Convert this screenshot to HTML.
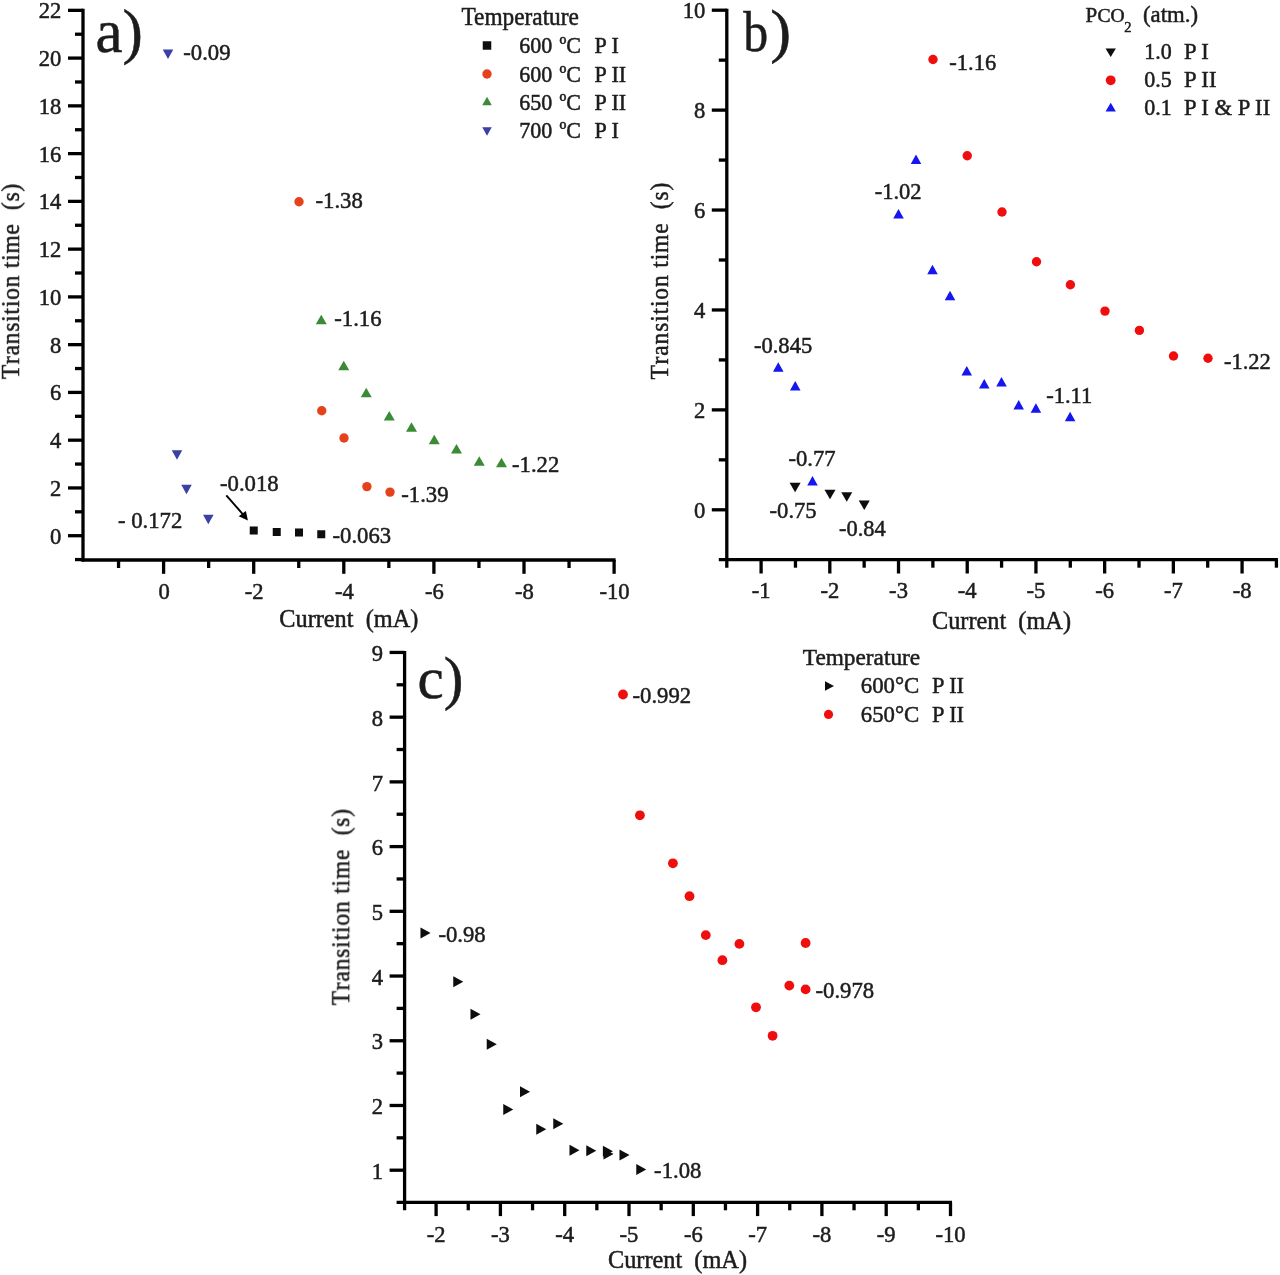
<!DOCTYPE html>
<html><head><meta charset="utf-8"><title>Transition time vs current</title>
<style>
html,body{margin:0;padding:0;background:#fff;}
body{width:1280px;height:1275px;overflow:hidden;font-family:"Liberation Serif",serif;}
svg{display:block;font-family:"Liberation Serif",serif;}
</style></head>
<body>
<svg width="1280" height="1275" viewBox="0 0 1280 1275">
<defs><filter id="soft" x="0" y="0" width="1280" height="1275" filterUnits="userSpaceOnUse"><feGaussianBlur stdDeviation="0.7"/></filter></defs>
<rect width="1280" height="1275" fill="#fff"/>
<g filter="url(#soft)">
<g id="A">
<line x1="83.00" y1="8.84" x2="83.00" y2="561.50" stroke="#050505" stroke-width="3.3"/>
<line x1="81.50" y1="560.00" x2="615.60" y2="560.00" stroke="#050505" stroke-width="3.3"/>
<line x1="75.00" y1="559.58" x2="83.00" y2="559.58" stroke="#050505" stroke-width="3.3"/>
<line x1="68.00" y1="535.70" x2="83.00" y2="535.70" stroke="#050505" stroke-width="3.3"/>
<text transform="translate(61.40,543.70) scale(1,1.06)" font-size="22.6" text-anchor="end" fill="#1c1c1c" stroke="#1c1c1c" stroke-width="0.5" >0</text>
<line x1="75.00" y1="511.82" x2="83.00" y2="511.82" stroke="#050505" stroke-width="3.3"/>
<line x1="68.00" y1="487.94" x2="83.00" y2="487.94" stroke="#050505" stroke-width="3.3"/>
<text transform="translate(61.40,495.94) scale(1,1.06)" font-size="22.6" text-anchor="end" fill="#1c1c1c" stroke="#1c1c1c" stroke-width="0.5" >2</text>
<line x1="75.00" y1="464.06" x2="83.00" y2="464.06" stroke="#050505" stroke-width="3.3"/>
<line x1="68.00" y1="440.18" x2="83.00" y2="440.18" stroke="#050505" stroke-width="3.3"/>
<text transform="translate(61.40,448.18) scale(1,1.06)" font-size="22.6" text-anchor="end" fill="#1c1c1c" stroke="#1c1c1c" stroke-width="0.5" >4</text>
<line x1="75.00" y1="416.30" x2="83.00" y2="416.30" stroke="#050505" stroke-width="3.3"/>
<line x1="68.00" y1="392.42" x2="83.00" y2="392.42" stroke="#050505" stroke-width="3.3"/>
<text transform="translate(61.40,400.42) scale(1,1.06)" font-size="22.6" text-anchor="end" fill="#1c1c1c" stroke="#1c1c1c" stroke-width="0.5" >6</text>
<line x1="75.00" y1="368.54" x2="83.00" y2="368.54" stroke="#050505" stroke-width="3.3"/>
<line x1="68.00" y1="344.66" x2="83.00" y2="344.66" stroke="#050505" stroke-width="3.3"/>
<text transform="translate(61.40,352.66) scale(1,1.06)" font-size="22.6" text-anchor="end" fill="#1c1c1c" stroke="#1c1c1c" stroke-width="0.5" >8</text>
<line x1="75.00" y1="320.78" x2="83.00" y2="320.78" stroke="#050505" stroke-width="3.3"/>
<line x1="68.00" y1="296.90" x2="83.00" y2="296.90" stroke="#050505" stroke-width="3.3"/>
<text transform="translate(61.40,304.90) scale(1,1.06)" font-size="22.6" text-anchor="end" fill="#1c1c1c" stroke="#1c1c1c" stroke-width="0.5" >10</text>
<line x1="75.00" y1="273.02" x2="83.00" y2="273.02" stroke="#050505" stroke-width="3.3"/>
<line x1="68.00" y1="249.14" x2="83.00" y2="249.14" stroke="#050505" stroke-width="3.3"/>
<text transform="translate(61.40,257.14) scale(1,1.06)" font-size="22.6" text-anchor="end" fill="#1c1c1c" stroke="#1c1c1c" stroke-width="0.5" >12</text>
<line x1="75.00" y1="225.26" x2="83.00" y2="225.26" stroke="#050505" stroke-width="3.3"/>
<line x1="68.00" y1="201.38" x2="83.00" y2="201.38" stroke="#050505" stroke-width="3.3"/>
<text transform="translate(61.40,209.38) scale(1,1.06)" font-size="22.6" text-anchor="end" fill="#1c1c1c" stroke="#1c1c1c" stroke-width="0.5" >14</text>
<line x1="75.00" y1="177.50" x2="83.00" y2="177.50" stroke="#050505" stroke-width="3.3"/>
<line x1="68.00" y1="153.62" x2="83.00" y2="153.62" stroke="#050505" stroke-width="3.3"/>
<text transform="translate(61.40,161.62) scale(1,1.06)" font-size="22.6" text-anchor="end" fill="#1c1c1c" stroke="#1c1c1c" stroke-width="0.5" >16</text>
<line x1="75.00" y1="129.74" x2="83.00" y2="129.74" stroke="#050505" stroke-width="3.3"/>
<line x1="68.00" y1="105.86" x2="83.00" y2="105.86" stroke="#050505" stroke-width="3.3"/>
<text transform="translate(61.40,113.86) scale(1,1.06)" font-size="22.6" text-anchor="end" fill="#1c1c1c" stroke="#1c1c1c" stroke-width="0.5" >18</text>
<line x1="75.00" y1="81.98" x2="83.00" y2="81.98" stroke="#050505" stroke-width="3.3"/>
<line x1="68.00" y1="58.10" x2="83.00" y2="58.10" stroke="#050505" stroke-width="3.3"/>
<text transform="translate(61.40,66.10) scale(1,1.06)" font-size="22.6" text-anchor="end" fill="#1c1c1c" stroke="#1c1c1c" stroke-width="0.5" >20</text>
<line x1="75.00" y1="34.22" x2="83.00" y2="34.22" stroke="#050505" stroke-width="3.3"/>
<line x1="68.00" y1="10.34" x2="83.00" y2="10.34" stroke="#050505" stroke-width="3.3"/>
<text transform="translate(61.40,18.34) scale(1,1.06)" font-size="22.6" text-anchor="end" fill="#1c1c1c" stroke="#1c1c1c" stroke-width="0.5" >22</text>
<line x1="614.10" y1="560.00" x2="614.10" y2="573.80" stroke="#050505" stroke-width="3.3"/>
<text transform="translate(614.60,599.00) scale(1,1.06)" font-size="22.6" text-anchor="middle" fill="#1c1c1c" stroke="#1c1c1c" stroke-width="0.5" >-10</text>
<line x1="569.05" y1="560.00" x2="569.05" y2="568.00" stroke="#050505" stroke-width="3.3"/>
<line x1="524.00" y1="560.00" x2="524.00" y2="573.80" stroke="#050505" stroke-width="3.3"/>
<text transform="translate(524.50,599.00) scale(1,1.06)" font-size="22.6" text-anchor="middle" fill="#1c1c1c" stroke="#1c1c1c" stroke-width="0.5" >-8</text>
<line x1="478.95" y1="560.00" x2="478.95" y2="568.00" stroke="#050505" stroke-width="3.3"/>
<line x1="433.90" y1="560.00" x2="433.90" y2="573.80" stroke="#050505" stroke-width="3.3"/>
<text transform="translate(434.40,599.00) scale(1,1.06)" font-size="22.6" text-anchor="middle" fill="#1c1c1c" stroke="#1c1c1c" stroke-width="0.5" >-6</text>
<line x1="388.85" y1="560.00" x2="388.85" y2="568.00" stroke="#050505" stroke-width="3.3"/>
<line x1="343.80" y1="560.00" x2="343.80" y2="573.80" stroke="#050505" stroke-width="3.3"/>
<text transform="translate(344.30,599.00) scale(1,1.06)" font-size="22.6" text-anchor="middle" fill="#1c1c1c" stroke="#1c1c1c" stroke-width="0.5" >-4</text>
<line x1="298.75" y1="560.00" x2="298.75" y2="568.00" stroke="#050505" stroke-width="3.3"/>
<line x1="253.70" y1="560.00" x2="253.70" y2="573.80" stroke="#050505" stroke-width="3.3"/>
<text transform="translate(254.20,599.00) scale(1,1.06)" font-size="22.6" text-anchor="middle" fill="#1c1c1c" stroke="#1c1c1c" stroke-width="0.5" >-2</text>
<line x1="208.65" y1="560.00" x2="208.65" y2="568.00" stroke="#050505" stroke-width="3.3"/>
<line x1="163.60" y1="560.00" x2="163.60" y2="573.80" stroke="#050505" stroke-width="3.3"/>
<text transform="translate(164.10,599.00) scale(1,1.06)" font-size="22.6" text-anchor="middle" fill="#1c1c1c" stroke="#1c1c1c" stroke-width="0.5" >0</text>
<line x1="118.55" y1="560.00" x2="118.55" y2="568.00" stroke="#050505" stroke-width="3.3"/>
<text transform="translate(19.00,379.20) rotate(-90) scale(0.93,1)" font-size="25.3" fill="#1c1c1c" stroke="#1c1c1c" stroke-width="0.5" xml:space="preserve" style="font-kerning:none" textLength="210.22" lengthAdjust="spacing">Transition time  (s)</text>
<text transform="translate(279.30,627.00) scale(1,1.05)" font-size="24.3" text-anchor="start" fill="#1c1c1c" stroke="#1c1c1c" stroke-width="0.5" xml:space="preserve">Current  (mA)</text>
<text transform="translate(95.50,51.50) scale(1,1)" font-size="61" text-anchor="start" fill="#1c1c1c" stroke="#1c1c1c" stroke-width="0.5" >a)</text>
<text transform="translate(461.50,25.00) scale(1,1.04)" font-size="23.3" text-anchor="start" fill="#1c1c1c" stroke="#1c1c1c" stroke-width="0.5" >Temperature</text>
<text transform="translate(519.20,52.90) scale(1,1.06)" font-size="22" text-anchor="start" fill="#1c1c1c" stroke="#1c1c1c" stroke-width="0.5" >600</text>
<text transform="translate(559.50,52.90) scale(1,1.06)" font-size="22" text-anchor="start" fill="#1c1c1c" stroke="#1c1c1c" stroke-width="0.5" >ºC</text>
<text transform="translate(594.50,52.90) scale(1,1.06)" font-size="22" text-anchor="start" fill="#1c1c1c" stroke="#1c1c1c" stroke-width="0.5" >P I</text>
<text transform="translate(519.20,81.70) scale(1,1.06)" font-size="22" text-anchor="start" fill="#1c1c1c" stroke="#1c1c1c" stroke-width="0.5" >600</text>
<text transform="translate(559.50,81.70) scale(1,1.06)" font-size="22" text-anchor="start" fill="#1c1c1c" stroke="#1c1c1c" stroke-width="0.5" >ºC</text>
<text transform="translate(594.50,81.70) scale(1,1.06)" font-size="22" text-anchor="start" fill="#1c1c1c" stroke="#1c1c1c" stroke-width="0.5" >P II</text>
<text transform="translate(519.20,109.70) scale(1,1.06)" font-size="22" text-anchor="start" fill="#1c1c1c" stroke="#1c1c1c" stroke-width="0.5" >650</text>
<text transform="translate(559.50,109.70) scale(1,1.06)" font-size="22" text-anchor="start" fill="#1c1c1c" stroke="#1c1c1c" stroke-width="0.5" >ºC</text>
<text transform="translate(594.50,109.70) scale(1,1.06)" font-size="22" text-anchor="start" fill="#1c1c1c" stroke="#1c1c1c" stroke-width="0.5" >P II</text>
<text transform="translate(519.20,137.80) scale(1,1.06)" font-size="22" text-anchor="start" fill="#1c1c1c" stroke="#1c1c1c" stroke-width="0.5" >700</text>
<text transform="translate(559.50,137.80) scale(1,1.06)" font-size="22" text-anchor="start" fill="#1c1c1c" stroke="#1c1c1c" stroke-width="0.5" >ºC</text>
<text transform="translate(594.50,137.80) scale(1,1.06)" font-size="22" text-anchor="start" fill="#1c1c1c" stroke="#1c1c1c" stroke-width="0.5" >P I</text>
<rect x="482.75" y="41.25" width="8.5" height="8.5" fill="#0a0a0a"/>
<circle cx="487.00" cy="74.00" r="4.7" fill="#e5431f"/>
<polygon points="482.25,105.25 491.75,105.25 487.00,96.75" fill="#3a8a35"/>
<polygon points="482.25,127.35 491.75,127.35 487.00,135.85" fill="#3b3fa5"/>
<polygon points="162.75,49.60 173.25,49.60 168.00,59.10" fill="#3b3fa5"/>
<polygon points="171.75,450.35 182.25,450.35 177.00,459.85" fill="#3b3fa5"/>
<polygon points="181.25,484.85 191.75,484.85 186.50,494.35" fill="#3b3fa5"/>
<polygon points="203.05,514.65 213.55,514.65 208.30,524.15" fill="#3b3fa5"/>
<rect x="249.75" y="526.50" width="8" height="8" fill="#0a0a0a"/>
<rect x="272.75" y="528.00" width="8" height="8" fill="#0a0a0a"/>
<rect x="295.00" y="528.50" width="8" height="8" fill="#0a0a0a"/>
<rect x="317.25" y="530.25" width="8" height="8" fill="#0a0a0a"/>
<circle cx="299.00" cy="201.75" r="4.7" fill="#e5431f"/>
<circle cx="321.75" cy="410.75" r="4.7" fill="#e5431f"/>
<circle cx="344.00" cy="438.00" r="4.7" fill="#e5431f"/>
<circle cx="366.90" cy="486.60" r="4.7" fill="#e5431f"/>
<circle cx="390.00" cy="492.10" r="4.7" fill="#e5431f"/>
<polygon points="315.75,324.25 326.75,324.25 321.25,314.75" fill="#3a8a35"/>
<polygon points="338.25,370.25 349.25,370.25 343.75,360.75" fill="#3a8a35"/>
<polygon points="360.75,397.25 371.75,397.25 366.25,387.75" fill="#3a8a35"/>
<polygon points="383.75,420.50 394.75,420.50 389.25,411.00" fill="#3a8a35"/>
<polygon points="406.00,431.75 417.00,431.75 411.50,422.25" fill="#3a8a35"/>
<polygon points="428.75,444.25 439.75,444.25 434.25,434.75" fill="#3a8a35"/>
<polygon points="451.00,453.50 462.00,453.50 456.50,444.00" fill="#3a8a35"/>
<polygon points="473.75,465.75 484.75,465.75 479.25,456.25" fill="#3a8a35"/>
<polygon points="496.00,467.25 507.00,467.25 501.50,457.75" fill="#3a8a35"/>
<text transform="translate(183.25,59.50) scale(1,1.06)" font-size="22.7" text-anchor="start" fill="#1c1c1c" stroke="#1c1c1c" stroke-width="0.5" >-0.09</text>
<text transform="translate(315.50,208.00) scale(1,1.06)" font-size="22.7" text-anchor="start" fill="#1c1c1c" stroke="#1c1c1c" stroke-width="0.5" >-1.38</text>
<text transform="translate(334.25,326.25) scale(1,1.06)" font-size="22.7" text-anchor="start" fill="#1c1c1c" stroke="#1c1c1c" stroke-width="0.5" >-1.16</text>
<text transform="translate(512.00,471.75) scale(1,1.06)" font-size="22.7" text-anchor="start" fill="#1c1c1c" stroke="#1c1c1c" stroke-width="0.5" >-1.22</text>
<text transform="translate(401.25,501.90) scale(1,1.06)" font-size="22.7" text-anchor="start" fill="#1c1c1c" stroke="#1c1c1c" stroke-width="0.5" >-1.39</text>
<text transform="translate(332.50,542.50) scale(1,1.06)" font-size="22.7" text-anchor="start" fill="#1c1c1c" stroke="#1c1c1c" stroke-width="0.5" >-0.063</text>
<text transform="translate(220.00,491.25) scale(1,1.06)" font-size="22.7" text-anchor="start" fill="#1c1c1c" stroke="#1c1c1c" stroke-width="0.5" >-0.018</text>
<text transform="translate(118.00,527.50) scale(1,1.06)" font-size="22.7" text-anchor="start" fill="#1c1c1c" stroke="#1c1c1c" stroke-width="0.5" >- 0.172</text>
<line x1="226.3" y1="495.3" x2="243.8" y2="515.3" stroke="#050505" stroke-width="1.9"/>
<polygon points="247.9,520.4 238.7,516.3 245.9,510.9" fill="#050505"/>
</g>
<g id="B">
<line x1="726.80" y1="8.70" x2="726.80" y2="567.70" stroke="#050505" stroke-width="3.3"/>
<line x1="718.80" y1="559.70" x2="1277.92" y2="559.70" stroke="#050505" stroke-width="3.3"/>
<line x1="711.80" y1="509.80" x2="726.80" y2="509.80" stroke="#050505" stroke-width="3.3"/>
<text transform="translate(705.30,517.80) scale(1,1.06)" font-size="22.6" text-anchor="end" fill="#1c1c1c" stroke="#1c1c1c" stroke-width="0.5" >0</text>
<line x1="718.80" y1="459.84" x2="726.80" y2="459.84" stroke="#050505" stroke-width="3.3"/>
<line x1="711.80" y1="409.88" x2="726.80" y2="409.88" stroke="#050505" stroke-width="3.3"/>
<text transform="translate(705.30,417.88) scale(1,1.06)" font-size="22.6" text-anchor="end" fill="#1c1c1c" stroke="#1c1c1c" stroke-width="0.5" >2</text>
<line x1="718.80" y1="359.92" x2="726.80" y2="359.92" stroke="#050505" stroke-width="3.3"/>
<line x1="711.80" y1="309.96" x2="726.80" y2="309.96" stroke="#050505" stroke-width="3.3"/>
<text transform="translate(705.30,317.96) scale(1,1.06)" font-size="22.6" text-anchor="end" fill="#1c1c1c" stroke="#1c1c1c" stroke-width="0.5" >4</text>
<line x1="718.80" y1="260.00" x2="726.80" y2="260.00" stroke="#050505" stroke-width="3.3"/>
<line x1="711.80" y1="210.04" x2="726.80" y2="210.04" stroke="#050505" stroke-width="3.3"/>
<text transform="translate(705.30,218.04) scale(1,1.06)" font-size="22.6" text-anchor="end" fill="#1c1c1c" stroke="#1c1c1c" stroke-width="0.5" >6</text>
<line x1="718.80" y1="160.08" x2="726.80" y2="160.08" stroke="#050505" stroke-width="3.3"/>
<line x1="711.80" y1="110.12" x2="726.80" y2="110.12" stroke="#050505" stroke-width="3.3"/>
<text transform="translate(705.30,118.12) scale(1,1.06)" font-size="22.6" text-anchor="end" fill="#1c1c1c" stroke="#1c1c1c" stroke-width="0.5" >8</text>
<line x1="718.80" y1="60.16" x2="726.80" y2="60.16" stroke="#050505" stroke-width="3.3"/>
<line x1="711.80" y1="10.20" x2="726.80" y2="10.20" stroke="#050505" stroke-width="3.3"/>
<text transform="translate(705.30,18.20) scale(1,1.06)" font-size="22.6" text-anchor="end" fill="#1c1c1c" stroke="#1c1c1c" stroke-width="0.5" >10</text>
<line x1="761.10" y1="559.70" x2="761.10" y2="573.50" stroke="#050505" stroke-width="3.3"/>
<text transform="translate(761.10,598.40) scale(1,1.06)" font-size="22.6" text-anchor="middle" fill="#1c1c1c" stroke="#1c1c1c" stroke-width="0.5" >-1</text>
<line x1="795.46" y1="559.70" x2="795.46" y2="567.70" stroke="#050505" stroke-width="3.3"/>
<line x1="829.81" y1="559.70" x2="829.81" y2="573.50" stroke="#050505" stroke-width="3.3"/>
<text transform="translate(829.81,598.40) scale(1,1.06)" font-size="22.6" text-anchor="middle" fill="#1c1c1c" stroke="#1c1c1c" stroke-width="0.5" >-2</text>
<line x1="864.16" y1="559.70" x2="864.16" y2="567.70" stroke="#050505" stroke-width="3.3"/>
<line x1="898.52" y1="559.70" x2="898.52" y2="573.50" stroke="#050505" stroke-width="3.3"/>
<text transform="translate(898.52,598.40) scale(1,1.06)" font-size="22.6" text-anchor="middle" fill="#1c1c1c" stroke="#1c1c1c" stroke-width="0.5" >-3</text>
<line x1="932.88" y1="559.70" x2="932.88" y2="567.70" stroke="#050505" stroke-width="3.3"/>
<line x1="967.23" y1="559.70" x2="967.23" y2="573.50" stroke="#050505" stroke-width="3.3"/>
<text transform="translate(967.23,598.40) scale(1,1.06)" font-size="22.6" text-anchor="middle" fill="#1c1c1c" stroke="#1c1c1c" stroke-width="0.5" >-4</text>
<line x1="1001.59" y1="559.70" x2="1001.59" y2="567.70" stroke="#050505" stroke-width="3.3"/>
<line x1="1035.94" y1="559.70" x2="1035.94" y2="573.50" stroke="#050505" stroke-width="3.3"/>
<text transform="translate(1035.94,598.40) scale(1,1.06)" font-size="22.6" text-anchor="middle" fill="#1c1c1c" stroke="#1c1c1c" stroke-width="0.5" >-5</text>
<line x1="1070.30" y1="559.70" x2="1070.30" y2="567.70" stroke="#050505" stroke-width="3.3"/>
<line x1="1104.65" y1="559.70" x2="1104.65" y2="573.50" stroke="#050505" stroke-width="3.3"/>
<text transform="translate(1104.65,598.40) scale(1,1.06)" font-size="22.6" text-anchor="middle" fill="#1c1c1c" stroke="#1c1c1c" stroke-width="0.5" >-6</text>
<line x1="1139.01" y1="559.70" x2="1139.01" y2="567.70" stroke="#050505" stroke-width="3.3"/>
<line x1="1173.36" y1="559.70" x2="1173.36" y2="573.50" stroke="#050505" stroke-width="3.3"/>
<text transform="translate(1173.36,598.40) scale(1,1.06)" font-size="22.6" text-anchor="middle" fill="#1c1c1c" stroke="#1c1c1c" stroke-width="0.5" >-7</text>
<line x1="1207.71" y1="559.70" x2="1207.71" y2="567.70" stroke="#050505" stroke-width="3.3"/>
<line x1="1242.07" y1="559.70" x2="1242.07" y2="573.50" stroke="#050505" stroke-width="3.3"/>
<text transform="translate(1242.07,598.40) scale(1,1.06)" font-size="22.6" text-anchor="middle" fill="#1c1c1c" stroke="#1c1c1c" stroke-width="0.5" >-8</text>
<line x1="1276.42" y1="559.70" x2="1276.42" y2="567.70" stroke="#050505" stroke-width="3.3"/>
<text transform="translate(667.60,379.60) rotate(-90) scale(0.93,1)" font-size="25.3" fill="#1c1c1c" stroke="#1c1c1c" stroke-width="0.5" xml:space="preserve" style="font-kerning:none" textLength="211.83" lengthAdjust="spacing">Transition time  (s)</text>
<text transform="translate(932.00,629.00) scale(1,1.05)" font-size="24.3" text-anchor="start" fill="#1c1c1c" stroke="#1c1c1c" stroke-width="0.5" xml:space="preserve">Current  (mA)</text>
<text transform="translate(743.2,51) scale(0.86,1)" font-size="58" fill="#1c1c1c" stroke="#1c1c1c" stroke-width="0.5">b</text>
<text transform="translate(770.2,51) scale(1.08,1.03)" font-size="58" fill="#1c1c1c" stroke="#1c1c1c" stroke-width="0.5">)</text>
<text transform="translate(1085.50,22.30) scale(1,1.0)" font-size="21" text-anchor="start" fill="#1c1c1c" stroke="#1c1c1c" stroke-width="0.5" >P</text>
<text transform="translate(1097.50,22.30) scale(1,1.0)" font-size="19.6" text-anchor="start" fill="#1c1c1c" stroke="#1c1c1c" stroke-width="0.5" >CO</text>
<text transform="translate(1124.30,31.80) scale(1,1.0)" font-size="14.5" text-anchor="start" fill="#1c1c1c" stroke="#1c1c1c" stroke-width="0.5" >2</text>
<text transform="translate(1143.00,22.30) scale(1,0.98)" font-size="22.8" text-anchor="start" fill="#1c1c1c" stroke="#1c1c1c" stroke-width="0.5" >(atm.)</text>
<text transform="translate(1144.20,59.00) scale(1,1.02)" font-size="22" text-anchor="start" fill="#1c1c1c" stroke="#1c1c1c" stroke-width="0.5" >1.0</text>
<text transform="translate(1184.00,59.00) scale(1,1.02)" font-size="22.6" text-anchor="start" fill="#1c1c1c" stroke="#1c1c1c" stroke-width="0.5" >P I</text>
<text transform="translate(1144.20,87.10) scale(1,1.02)" font-size="22" text-anchor="start" fill="#1c1c1c" stroke="#1c1c1c" stroke-width="0.5" >0.5</text>
<text transform="translate(1184.00,87.10) scale(1,1.02)" font-size="22.6" text-anchor="start" fill="#1c1c1c" stroke="#1c1c1c" stroke-width="0.5" >P II</text>
<text transform="translate(1144.20,115.20) scale(1,1.02)" font-size="22" text-anchor="start" fill="#1c1c1c" stroke="#1c1c1c" stroke-width="0.5" >0.1</text>
<text transform="translate(1184.00,115.20) scale(1,1.02)" font-size="22.6" text-anchor="start" fill="#1c1c1c" stroke="#1c1c1c" stroke-width="0.5" >P I &amp; P II</text>
<polygon points="1105.55,48.40 1115.85,48.40 1110.70,57.00" fill="#0a0a0a"/>
<circle cx="1110.70" cy="80.30" r="4.9" fill="#f01010"/>
<polygon points="1105.55,111.60 1115.85,111.60 1110.70,102.80" fill="#1212ee"/>
<circle cx="933.00" cy="59.50" r="4.7" fill="#f01010"/>
<circle cx="967.25" cy="155.75" r="4.7" fill="#f01010"/>
<circle cx="1002.00" cy="212.00" r="4.7" fill="#f01010"/>
<circle cx="1036.50" cy="261.80" r="4.7" fill="#f01010"/>
<circle cx="1070.40" cy="284.70" r="4.7" fill="#f01010"/>
<circle cx="1105.00" cy="311.10" r="4.7" fill="#f01010"/>
<circle cx="1139.40" cy="330.40" r="4.7" fill="#f01010"/>
<circle cx="1173.50" cy="356.00" r="4.7" fill="#f01010"/>
<circle cx="1208.00" cy="358.20" r="4.7" fill="#f01010"/>
<polygon points="773.00,371.75 783.50,371.75 778.25,362.25" fill="#1212ee"/>
<polygon points="790.00,390.50 800.50,390.50 795.25,381.00" fill="#1212ee"/>
<polygon points="807.25,485.55 817.75,485.55 812.50,476.05" fill="#1212ee"/>
<polygon points="961.50,375.50 972.00,375.50 966.75,366.00" fill="#1212ee"/>
<polygon points="979.00,388.50 989.50,388.50 984.25,379.00" fill="#1212ee"/>
<polygon points="996.25,386.50 1006.75,386.50 1001.50,377.00" fill="#1212ee"/>
<polygon points="1013.45,409.45 1023.95,409.45 1018.70,399.95" fill="#1212ee"/>
<polygon points="1030.65,412.75 1041.15,412.75 1035.90,403.25" fill="#1212ee"/>
<polygon points="1064.85,421.15 1075.35,421.15 1070.10,411.65" fill="#1212ee"/>
<polygon points="910.75,164.00 921.25,164.00 916.00,154.50" fill="#1212ee"/>
<polygon points="893.25,218.50 903.75,218.50 898.50,209.00" fill="#1212ee"/>
<polygon points="927.25,274.25 937.75,274.25 932.50,264.75" fill="#1212ee"/>
<polygon points="944.75,300.25 955.25,300.25 950.00,290.75" fill="#1212ee"/>
<polygon points="789.60,482.75 800.60,482.75 795.10,492.25" fill="#0a0a0a"/>
<polygon points="824.50,489.85 835.50,489.85 830.00,499.35" fill="#0a0a0a"/>
<polygon points="841.25,492.15 852.25,492.15 846.75,501.65" fill="#0a0a0a"/>
<polygon points="858.75,500.55 869.75,500.55 864.25,510.05" fill="#0a0a0a"/>
<text transform="translate(949.30,70.30) scale(1,1.0)" font-size="22.5" text-anchor="start" fill="#1c1c1c" stroke="#1c1c1c" stroke-width="0.5" >-1.16</text>
<text transform="translate(874.70,199.00) scale(1,1.0)" font-size="22.5" text-anchor="start" fill="#1c1c1c" stroke="#1c1c1c" stroke-width="0.5" >-1.02</text>
<text transform="translate(753.90,353.00) scale(1,1.03)" font-size="22.6" text-anchor="start" fill="#1c1c1c" stroke="#1c1c1c" stroke-width="0.5" >-0.845</text>
<text transform="translate(788.50,466.30) scale(1,1.0)" font-size="22.6" text-anchor="start" fill="#1c1c1c" stroke="#1c1c1c" stroke-width="0.5" >-0.77</text>
<text transform="translate(769.60,518.20) scale(1,1.0)" font-size="22.6" text-anchor="start" fill="#1c1c1c" stroke="#1c1c1c" stroke-width="0.5" >-0.75</text>
<text transform="translate(839.00,535.70) scale(1,1.0)" font-size="22.4" text-anchor="start" fill="#1c1c1c" stroke="#1c1c1c" stroke-width="0.5" >-0.84</text>
<text transform="translate(1046.20,402.60) scale(1,1.0)" font-size="22.5" text-anchor="start" fill="#1c1c1c" stroke="#1c1c1c" stroke-width="0.5" >-1.11</text>
<text transform="translate(1224.00,369.20) scale(1,1.0)" font-size="22.5" text-anchor="start" fill="#1c1c1c" stroke="#1c1c1c" stroke-width="0.5" >-1.22</text>
</g>
<g id="C">
<line x1="404.60" y1="650.94" x2="404.60" y2="1210.30" stroke="#050505" stroke-width="3.3"/>
<line x1="396.60" y1="1202.30" x2="952.00" y2="1202.30" stroke="#050505" stroke-width="3.3"/>
<line x1="389.60" y1="1170.20" x2="404.60" y2="1170.20" stroke="#050505" stroke-width="3.3"/>
<text transform="translate(383.00,1178.90) scale(1,1.06)" font-size="22.6" text-anchor="end" fill="#1c1c1c" stroke="#1c1c1c" stroke-width="0.5" >1</text>
<line x1="396.60" y1="1137.84" x2="404.60" y2="1137.84" stroke="#050505" stroke-width="3.3"/>
<line x1="389.60" y1="1105.48" x2="404.60" y2="1105.48" stroke="#050505" stroke-width="3.3"/>
<text transform="translate(383.00,1114.18) scale(1,1.06)" font-size="22.6" text-anchor="end" fill="#1c1c1c" stroke="#1c1c1c" stroke-width="0.5" >2</text>
<line x1="396.60" y1="1073.12" x2="404.60" y2="1073.12" stroke="#050505" stroke-width="3.3"/>
<line x1="389.60" y1="1040.76" x2="404.60" y2="1040.76" stroke="#050505" stroke-width="3.3"/>
<text transform="translate(383.00,1049.46) scale(1,1.06)" font-size="22.6" text-anchor="end" fill="#1c1c1c" stroke="#1c1c1c" stroke-width="0.5" >3</text>
<line x1="396.60" y1="1008.40" x2="404.60" y2="1008.40" stroke="#050505" stroke-width="3.3"/>
<line x1="389.60" y1="976.04" x2="404.60" y2="976.04" stroke="#050505" stroke-width="3.3"/>
<text transform="translate(383.00,984.74) scale(1,1.06)" font-size="22.6" text-anchor="end" fill="#1c1c1c" stroke="#1c1c1c" stroke-width="0.5" >4</text>
<line x1="396.60" y1="943.68" x2="404.60" y2="943.68" stroke="#050505" stroke-width="3.3"/>
<line x1="389.60" y1="911.32" x2="404.60" y2="911.32" stroke="#050505" stroke-width="3.3"/>
<text transform="translate(383.00,920.02) scale(1,1.06)" font-size="22.6" text-anchor="end" fill="#1c1c1c" stroke="#1c1c1c" stroke-width="0.5" >5</text>
<line x1="396.60" y1="878.96" x2="404.60" y2="878.96" stroke="#050505" stroke-width="3.3"/>
<line x1="389.60" y1="846.60" x2="404.60" y2="846.60" stroke="#050505" stroke-width="3.3"/>
<text transform="translate(383.00,855.30) scale(1,1.06)" font-size="22.6" text-anchor="end" fill="#1c1c1c" stroke="#1c1c1c" stroke-width="0.5" >6</text>
<line x1="396.60" y1="814.24" x2="404.60" y2="814.24" stroke="#050505" stroke-width="3.3"/>
<line x1="389.60" y1="781.88" x2="404.60" y2="781.88" stroke="#050505" stroke-width="3.3"/>
<text transform="translate(383.00,790.58) scale(1,1.06)" font-size="22.6" text-anchor="end" fill="#1c1c1c" stroke="#1c1c1c" stroke-width="0.5" >7</text>
<line x1="396.60" y1="749.52" x2="404.60" y2="749.52" stroke="#050505" stroke-width="3.3"/>
<line x1="389.60" y1="717.16" x2="404.60" y2="717.16" stroke="#050505" stroke-width="3.3"/>
<text transform="translate(383.00,725.86) scale(1,1.06)" font-size="22.6" text-anchor="end" fill="#1c1c1c" stroke="#1c1c1c" stroke-width="0.5" >8</text>
<line x1="396.60" y1="684.80" x2="404.60" y2="684.80" stroke="#050505" stroke-width="3.3"/>
<line x1="389.60" y1="652.44" x2="404.60" y2="652.44" stroke="#050505" stroke-width="3.3"/>
<text transform="translate(383.00,661.14) scale(1,1.06)" font-size="22.6" text-anchor="end" fill="#1c1c1c" stroke="#1c1c1c" stroke-width="0.5" >9</text>
<line x1="436.10" y1="1202.30" x2="436.10" y2="1216.10" stroke="#050505" stroke-width="3.3"/>
<text transform="translate(436.10,1241.60) scale(1,1.06)" font-size="22.6" text-anchor="middle" fill="#1c1c1c" stroke="#1c1c1c" stroke-width="0.5" >-2</text>
<line x1="468.25" y1="1202.30" x2="468.25" y2="1210.30" stroke="#050505" stroke-width="3.3"/>
<line x1="500.40" y1="1202.30" x2="500.40" y2="1216.10" stroke="#050505" stroke-width="3.3"/>
<text transform="translate(500.40,1241.60) scale(1,1.06)" font-size="22.6" text-anchor="middle" fill="#1c1c1c" stroke="#1c1c1c" stroke-width="0.5" >-3</text>
<line x1="532.55" y1="1202.30" x2="532.55" y2="1210.30" stroke="#050505" stroke-width="3.3"/>
<line x1="564.70" y1="1202.30" x2="564.70" y2="1216.10" stroke="#050505" stroke-width="3.3"/>
<text transform="translate(564.70,1241.60) scale(1,1.06)" font-size="22.6" text-anchor="middle" fill="#1c1c1c" stroke="#1c1c1c" stroke-width="0.5" >-4</text>
<line x1="596.85" y1="1202.30" x2="596.85" y2="1210.30" stroke="#050505" stroke-width="3.3"/>
<line x1="629.00" y1="1202.30" x2="629.00" y2="1216.10" stroke="#050505" stroke-width="3.3"/>
<text transform="translate(629.00,1241.60) scale(1,1.06)" font-size="22.6" text-anchor="middle" fill="#1c1c1c" stroke="#1c1c1c" stroke-width="0.5" >-5</text>
<line x1="661.15" y1="1202.30" x2="661.15" y2="1210.30" stroke="#050505" stroke-width="3.3"/>
<line x1="693.30" y1="1202.30" x2="693.30" y2="1216.10" stroke="#050505" stroke-width="3.3"/>
<text transform="translate(693.30,1241.60) scale(1,1.06)" font-size="22.6" text-anchor="middle" fill="#1c1c1c" stroke="#1c1c1c" stroke-width="0.5" >-6</text>
<line x1="725.45" y1="1202.30" x2="725.45" y2="1210.30" stroke="#050505" stroke-width="3.3"/>
<line x1="757.60" y1="1202.30" x2="757.60" y2="1216.10" stroke="#050505" stroke-width="3.3"/>
<text transform="translate(757.60,1241.60) scale(1,1.06)" font-size="22.6" text-anchor="middle" fill="#1c1c1c" stroke="#1c1c1c" stroke-width="0.5" >-7</text>
<line x1="789.75" y1="1202.30" x2="789.75" y2="1210.30" stroke="#050505" stroke-width="3.3"/>
<line x1="821.90" y1="1202.30" x2="821.90" y2="1216.10" stroke="#050505" stroke-width="3.3"/>
<text transform="translate(821.90,1241.60) scale(1,1.06)" font-size="22.6" text-anchor="middle" fill="#1c1c1c" stroke="#1c1c1c" stroke-width="0.5" >-8</text>
<line x1="854.05" y1="1202.30" x2="854.05" y2="1210.30" stroke="#050505" stroke-width="3.3"/>
<line x1="886.20" y1="1202.30" x2="886.20" y2="1216.10" stroke="#050505" stroke-width="3.3"/>
<text transform="translate(886.20,1241.60) scale(1,1.06)" font-size="22.6" text-anchor="middle" fill="#1c1c1c" stroke="#1c1c1c" stroke-width="0.5" >-9</text>
<line x1="918.35" y1="1202.30" x2="918.35" y2="1210.30" stroke="#050505" stroke-width="3.3"/>
<line x1="950.50" y1="1202.30" x2="950.50" y2="1216.10" stroke="#050505" stroke-width="3.3"/>
<text transform="translate(950.50,1241.60) scale(1,1.06)" font-size="22.6" text-anchor="middle" fill="#1c1c1c" stroke="#1c1c1c" stroke-width="0.5" >-10</text>
<text transform="translate(349.20,1005.40) rotate(-90) scale(0.93,1)" font-size="25.3" fill="#1c1c1c" stroke="#1c1c1c" stroke-width="0.5" xml:space="preserve" style="font-kerning:none" textLength="211.29" lengthAdjust="spacing">Transition time  (s)</text>
<text transform="translate(608.00,1267.60) scale(1,1.05)" font-size="24.3" text-anchor="start" fill="#1c1c1c" stroke="#1c1c1c" stroke-width="0.5" xml:space="preserve">Current  (mA)</text>
<text transform="translate(417.50,698.30) scale(1,1)" font-size="59" text-anchor="start" fill="#1c1c1c" stroke="#1c1c1c" stroke-width="0.5" >c)</text>
<text transform="translate(802.80,665.10) scale(1,1.0)" font-size="23.3" text-anchor="start" fill="#1c1c1c" stroke="#1c1c1c" stroke-width="0.5" >Temperature</text>
<text transform="translate(860.80,693.10) scale(1,1.02)" font-size="22.8" text-anchor="start" fill="#1c1c1c" stroke="#1c1c1c" stroke-width="0.5" >600°C</text>
<text transform="translate(932.00,693.10) scale(1,1.0)" font-size="22.3" text-anchor="start" fill="#1c1c1c" stroke="#1c1c1c" stroke-width="0.5" >P II</text>
<text transform="translate(860.80,721.50) scale(1,1.02)" font-size="22.8" text-anchor="start" fill="#1c1c1c" stroke="#1c1c1c" stroke-width="0.5" >650°C</text>
<text transform="translate(932.00,721.50) scale(1,1.0)" font-size="22.3" text-anchor="start" fill="#1c1c1c" stroke="#1c1c1c" stroke-width="0.5" >P II</text>
<polygon points="825.00,681.25 825.00,690.75 834.00,686.00" fill="#0a0a0a"/>
<circle cx="828.50" cy="714.40" r="4.6" fill="#f01010"/>
<polygon points="420.50,927.50 420.50,938.50 430.50,933.00" fill="#0a0a0a"/>
<polygon points="453.25,976.25 453.25,987.25 463.25,981.75" fill="#0a0a0a"/>
<polygon points="470.50,1008.75 470.50,1019.75 480.50,1014.25" fill="#0a0a0a"/>
<polygon points="486.75,1038.75 486.75,1049.75 496.75,1044.25" fill="#0a0a0a"/>
<polygon points="520.00,1086.25 520.00,1097.25 530.00,1091.75" fill="#0a0a0a"/>
<polygon points="503.25,1104.00 503.25,1115.00 513.25,1109.50" fill="#0a0a0a"/>
<polygon points="536.25,1123.75 536.25,1134.75 546.25,1129.25" fill="#0a0a0a"/>
<polygon points="553.25,1118.25 553.25,1129.25 563.25,1123.75" fill="#0a0a0a"/>
<polygon points="569.50,1144.75 569.50,1155.75 579.50,1150.25" fill="#0a0a0a"/>
<polygon points="586.25,1145.25 586.25,1156.25 596.25,1150.75" fill="#0a0a0a"/>
<polygon points="602.90,1145.70 602.90,1156.70 612.90,1151.20" fill="#0a0a0a"/>
<polygon points="603.50,1148.40 603.50,1159.40 613.50,1153.90" fill="#0a0a0a"/>
<polygon points="619.50,1149.50 619.50,1160.50 629.50,1155.00" fill="#0a0a0a"/>
<polygon points="636.25,1164.00 636.25,1175.00 646.25,1169.50" fill="#0a0a0a"/>
<circle cx="623.00" cy="694.50" r="4.9" fill="#f01010"/>
<circle cx="639.90" cy="815.30" r="4.9" fill="#f01010"/>
<circle cx="672.90" cy="863.30" r="4.9" fill="#f01010"/>
<circle cx="689.50" cy="896.20" r="4.9" fill="#f01010"/>
<circle cx="705.80" cy="935.10" r="4.9" fill="#f01010"/>
<circle cx="722.40" cy="960.20" r="4.9" fill="#f01010"/>
<circle cx="739.40" cy="943.90" r="4.9" fill="#f01010"/>
<circle cx="805.60" cy="943.00" r="4.9" fill="#f01010"/>
<circle cx="789.30" cy="985.60" r="4.9" fill="#f01010"/>
<circle cx="805.60" cy="989.40" r="4.9" fill="#f01010"/>
<circle cx="756.00" cy="1007.30" r="4.9" fill="#f01010"/>
<circle cx="772.60" cy="1035.80" r="4.9" fill="#f01010"/>
<text transform="translate(438.40,941.50) scale(1,1.06)" font-size="22.7" text-anchor="start" fill="#1c1c1c" stroke="#1c1c1c" stroke-width="0.5" >-0.98</text>
<text transform="translate(654.10,1178.00) scale(1,1.06)" font-size="22.7" text-anchor="start" fill="#1c1c1c" stroke="#1c1c1c" stroke-width="0.5" >-1.08</text>
<text transform="translate(632.50,702.50) scale(1,1.06)" font-size="22.7" text-anchor="start" fill="#1c1c1c" stroke="#1c1c1c" stroke-width="0.5" >-0.992</text>
<text transform="translate(815.50,998.20) scale(1,1.06)" font-size="22.7" text-anchor="start" fill="#1c1c1c" stroke="#1c1c1c" stroke-width="0.5" >-0.978</text>
</g>
</g>
</svg>
</body></html>
